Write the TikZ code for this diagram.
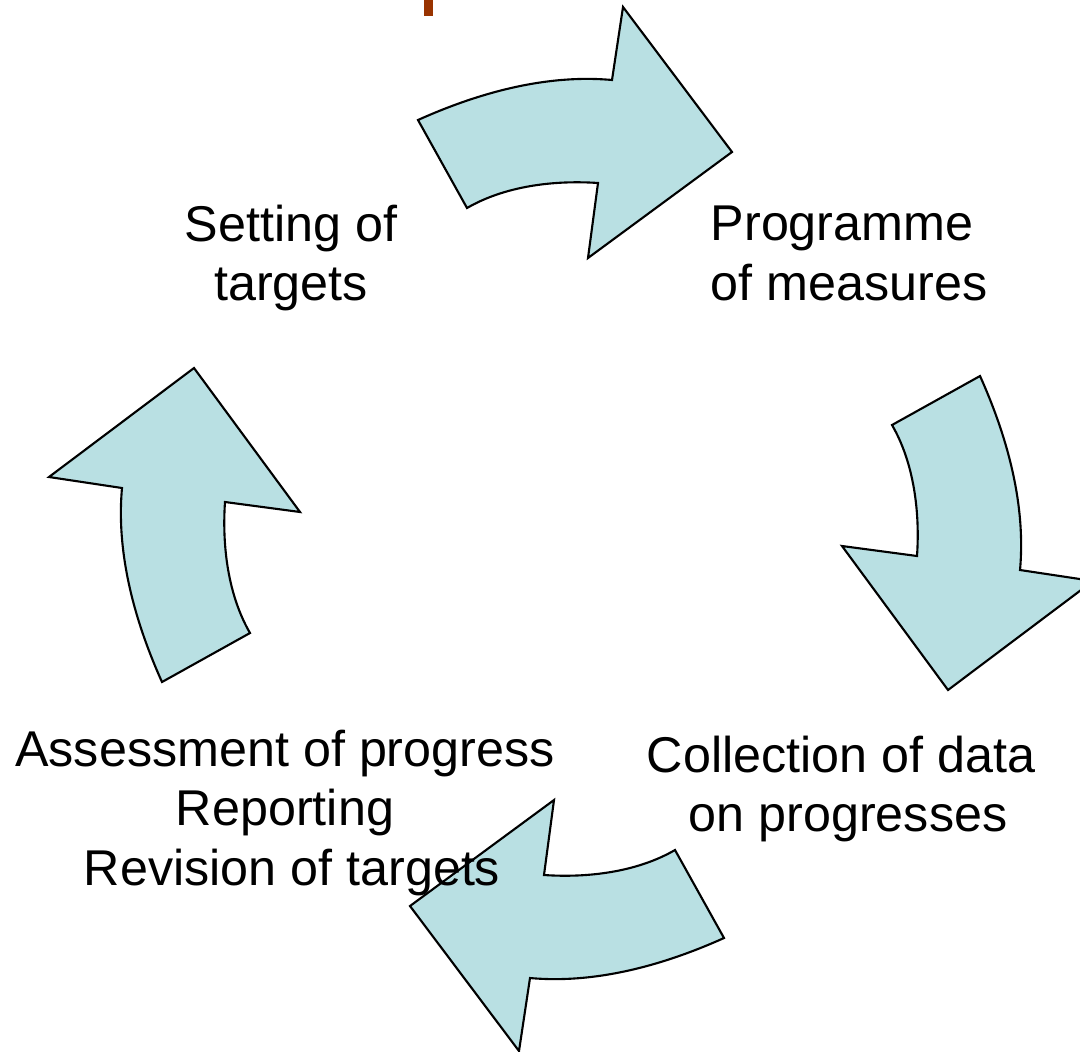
\documentclass[tikz,border=0pt]{standalone}
\usepackage{fontspec}
\setmainfont{Liberation Sans}
\definecolor{cyclefill}{RGB}{185,224,227}
\definecolor{titlebrown}{RGB}{153,51,0}

\begin{document}
\begin{tikzpicture}[x=0.01cm, y=0.01cm,
  bigarrow/.style={draw=black, line width=0.6pt, fill=cyclefill, line join=miter},
  steptext/.style={font=\fontsize{14.3}{17}\selectfont, inner sep=0pt, align=center}]
\useasboundingbox (-571,-522) rectangle (509,529);

% Curved arrows round the cycle
\foreach \ang in {0,-90,-180,-270}
  \draw[bigarrow, rotate=\ang] (-153,409) .. controls (-93,436) and (-25,455) .. (41,449)
    -- (52,522) -- (161,377) -- (17,271) -- (27,346)
    .. controls (-17,349) and (-66,343) .. (-104,321) -- cycle;

% Cut-off title
\fill[titlebrown] (-147,529) rectangle (-138,513);

% Stages
\node[steptext, anchor=north] (targets) at (-280,325) {Setting of\\targets};
\node[steptext, anchor=north west, align=left] (measures) at (139,324) {Programme\\of measures};
\node[steptext, anchor=north] (collection) at (277,-206) {Collection of data\hspace*{0.278em}\\on progresses};
\node[steptext, anchor=north] (assessment) at (-286,-200) {Assessment of progress\\Reporting\\\hspace*{0.278em}Revision of targets};
\end{tikzpicture}
\end{document}
